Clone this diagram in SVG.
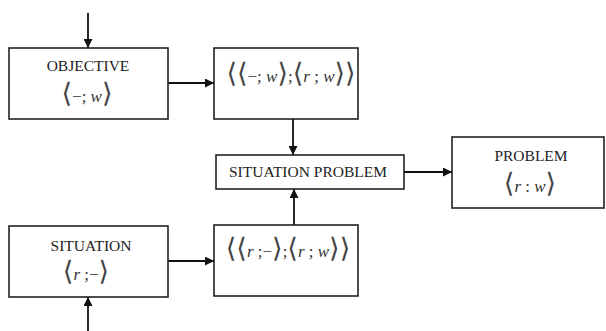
<svg xmlns="http://www.w3.org/2000/svg" width="606" height="331" viewBox="0 0 606 331">
<style>
.box{fill:#fff;stroke:#222;stroke-width:1.6}
.lbl{font-family:"Liberation Serif","Times New Roman",serif;font-size:15.5px;fill:#222;text-anchor:middle}
.f{font-family:"Liberation Serif","Times New Roman",serif;font-size:17px;fill:#333;text-anchor:middle}
.v{font-style:italic}
.b{font-family:"DejaVu Serif","DejaVu Sans",serif;font-size:27px;fill:#444}
.c{stroke:#111;stroke-width:1.8;fill:none;marker-end:url(#ah)}
</style>
<defs>
<marker id="ah" viewBox="0 0 10 10" refX="10" refY="5" markerWidth="10" markerHeight="9" markerUnits="userSpaceOnUse" orient="auto">
<path d="M0,0 L10,5 L0,10 z" fill="#111"/>
</marker>
</defs>
<rect width="606" height="331" fill="#fff"/>
<g id="connectors">
<line class="c" x1="88" y1="13" x2="88" y2="48"/>
<line class="c" x1="168" y1="83" x2="214" y2="83"/>
<line class="c" x1="293" y1="119" x2="293" y2="155"/>
<line class="c" x1="404" y1="172" x2="452" y2="172"/>
<line class="c" x1="294" y1="225" x2="294" y2="189"/>
<line class="c" x1="168" y1="261" x2="214" y2="261"/>
<line class="c" x1="88" y1="331" x2="88" y2="297"/>
</g>
<g id="objective">
<rect class="box" x="9" y="48" width="159" height="71"/>
<text class="lbl" x="88" y="71">OBJECTIVE</text>
<text class="f" x="87" y="102"><tspan class="b">⟨</tspan>−; <tspan class="v">w</tspan><tspan class="b">⟩</tspan></text>
</g>
<g id="combo-top">
<rect class="box" x="214" y="48" width="144" height="71"/>
<text class="f" x="291" y="82"><tspan class="b">⟨⟨</tspan>−; <tspan class="v">w</tspan><tspan class="b">⟩</tspan>;<tspan class="b">⟨</tspan><tspan class="v">r</tspan> ; <tspan class="v">w</tspan><tspan class="b">⟩⟩</tspan></text>
</g>
<g id="situation-problem">
<rect class="box" x="216" y="155" width="188" height="34"/>
<text class="lbl" x="308" y="177">SITUATION PROBLEM</text>
</g>
<g id="problem">
<rect class="box" x="452" y="137" width="152" height="71"/>
<text class="lbl" x="531" y="161">PROBLEM</text>
<text class="f" x="530" y="192"><tspan class="b">⟨</tspan><tspan class="v">r</tspan> : <tspan class="v">w</tspan><tspan class="b">⟩</tspan></text>
</g>
<g id="situation">
<rect class="box" x="9" y="226" width="159" height="71"/>
<text class="lbl" x="91" y="251">SITUATION</text>
<text class="f" x="86" y="280"><tspan class="b">⟨</tspan><tspan class="v">r</tspan> ;−<tspan class="b">⟩</tspan></text>
</g>
<g id="combo-bottom">
<rect class="box" x="214" y="225" width="144" height="71"/>
<text class="f" x="288" y="257"><tspan class="b">⟨⟨</tspan><tspan class="v">r</tspan> ;−<tspan class="b">⟩</tspan>;<tspan class="b">⟨</tspan><tspan class="v">r</tspan> ; <tspan class="v">w</tspan><tspan class="b">⟩⟩</tspan></text>
</g>
</svg>
